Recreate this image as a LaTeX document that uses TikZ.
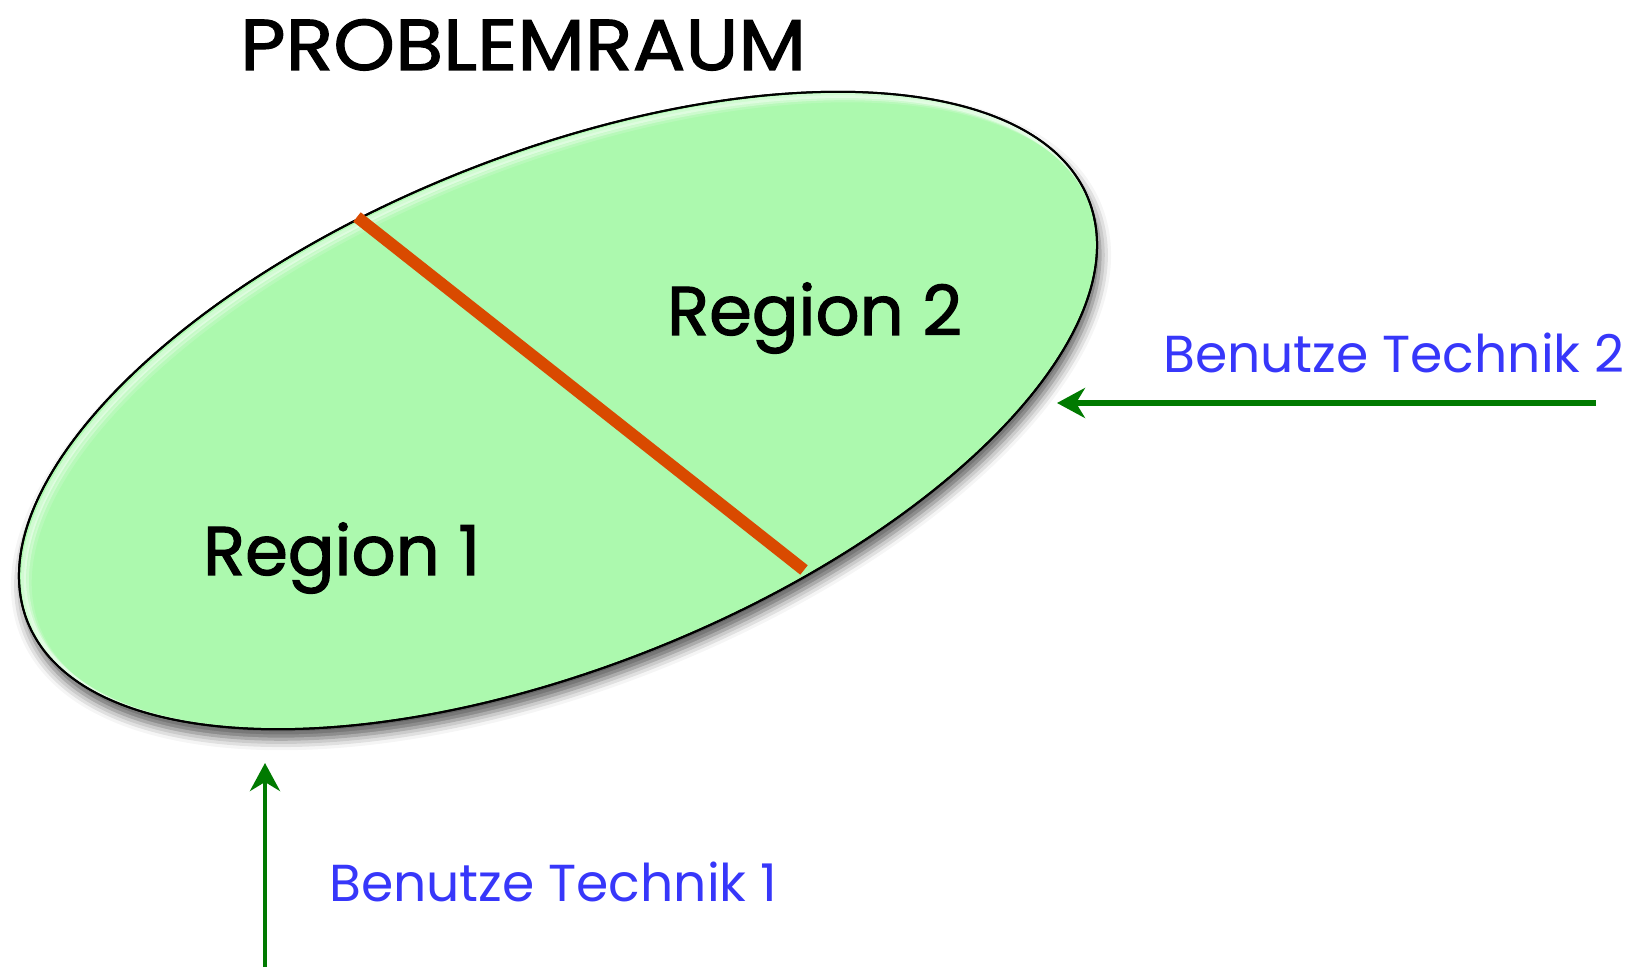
\documentclass[tikz,border=0pt]{standalone}
\usepackage{fontspec}
\setmainfont{Poppins}
\newfontfamily\heavyfont[FakeBold=1.6]{Poppins}
\newfontfamily\titlefont[FakeBold=1.6,FakeStretch=1.09]{Poppins}
\usetikzlibrary{shapes.geometric,arrows.meta,shadows.blur}
\definecolor{regiongreen}{RGB}{172,249,174}
\definecolor{cutred}{RGB}{217,74,0}
\definecolor{arrowgreen}{RGB}{0,122,0}
\definecolor{labelblue}{RGB}{55,55,250}
\tikzset{
  space/.style={ellipse, draw=black, line width=2pt, fill=regiongreen,
    inner sep=0pt, outer sep=0pt,
    minimum width=1142pt, minimum height=514pt,
    blur shadow={shadow xshift=3pt, shadow yshift=-10pt, shadow blur radius=11pt, shadow opacity=65}},
  heading/.style={anchor=base west, inner sep=0pt, font=\titlefont\fontsize{72}{74}\selectfont},
  regionlabel/.style={anchor=base west, inner sep=0pt, font=\heavyfont\fontsize{69}{71}\selectfont},
  techlabel/.style={anchor=base west, inner sep=0pt, text=labelblue, font=\fontsize{52}{54}\selectfont},
  cutline/.style={draw=cutred, line width=12pt},
  useit/.style={draw=arrowgreen, -{Stealth[length=28pt, width=30pt, inset=9pt]}},
}
\begin{document}
\begin{tikzpicture}[x=1pt,y=1pt]
  \useasboundingbox (0,0) rectangle (1633,967);
  % problem space
  \node[space, rotate=21.7] (space) at (558,556.5) {};
  % soft inner highlight along the upper-left rim
  \begin{scope}
    \clip[rotate around={21.7:(558,556.5)}] (558,556.5) ellipse [x radius=570, y radius=256];
    \foreach \d/\o in {4/0.45,7/0.3,10/0.15}
      \draw[white, line width=5pt, opacity=\o, rotate around={21.7:(558,556.5)}]
        (558+\d*0.6,556.5-\d) ellipse [x radius=570, y radius=256];
  \end{scope}
  \draw[black, line width=2pt, rotate around={21.7:(558,556.5)}] (558,556.5) ellipse [x radius=571, y radius=257];
  % boundary between the two regions
  \coordinate (cutA) at (357,750);
  \coordinate (cutB) at (804,397);
  \path[cutline] (cutA) -- (cutB);
  % labels
  \node[heading] (title) at (240,897) {PROBLEMRAUM};
  \node[regionlabel] (r2) at (667,632) {Region 2};
  \node[regionlabel] (r1) at (203,392) {Region 1};
  \node[techlabel] (t2) at (1163,594) {Benutze Technik 2};
  \node[techlabel] (t1) at (329,66) {Benutze Technik 1};
  % technique arrows
  \coordinate (s2) at (1596,564);
  \coordinate (e2) at (1057,564);
  \coordinate (s1) at (265,0);
  \coordinate (e1) at (265,204);
  \path[useit, line width=5.5pt] (s2) -- (e2);
  \path[useit, line width=4.5pt] (s1) -- (e1);
\end{tikzpicture}
\end{document}
